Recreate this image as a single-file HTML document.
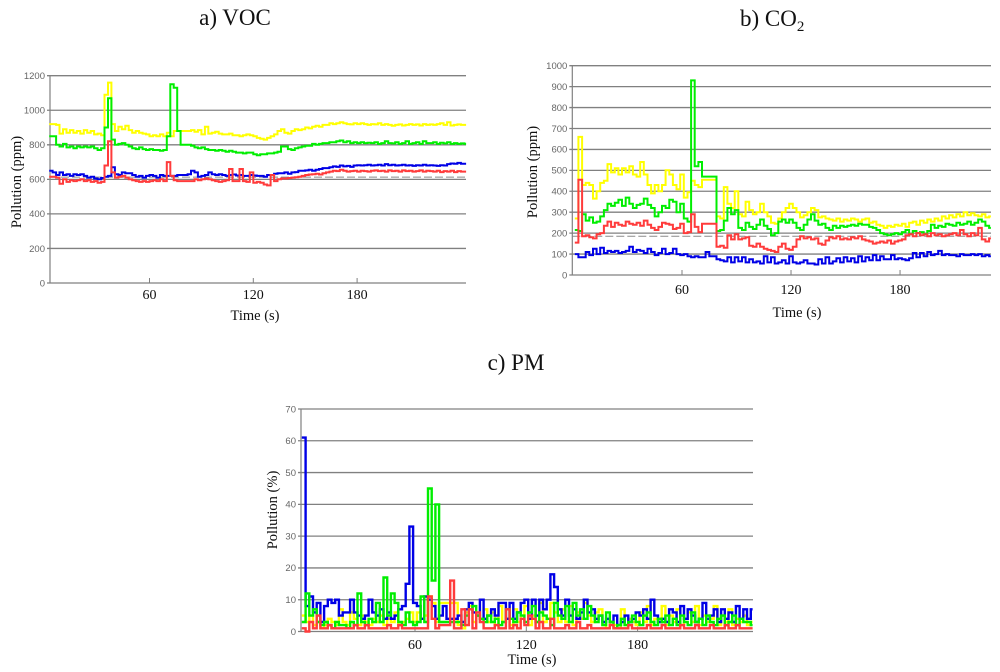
<!DOCTYPE html>
<html lang="en">
<head>
<meta charset="utf-8">
<title>Pollution charts</title>
<style>
html,body{margin:0;padding:0;background:#fff;width:1000px;height:672px;overflow:hidden}
svg{display:block}
.serif{font-family:"Liberation Serif",serif;fill:#111}
.sans{font-family:"Liberation Sans",sans-serif;fill:#666}
</style>
</head>
<body>
<svg id="figure" xmlns="http://www.w3.org/2000/svg" width="1000" height="672" viewBox="0 0 1000 672">
<defs><filter id="soft" x="-2%" y="-2%" width="104%" height="104%"><feGaussianBlur stdDeviation="0.35"/></filter></defs>
<text class="serif" x="235" y="25" font-size="23" text-anchor="middle">a) VOC</text>
<text class="serif" x="740" y="26" font-size="23">b) CO<tspan font-size="15" dy="5">2</tspan></text>
<text class="serif" x="516" y="370" font-size="23" text-anchor="middle">c) PM</text>
<g id="chart-a"></g>
<g id="chart-b"></g>
<g id="chart-c"></g>
</svg>
<script>
// ---------- Chart a: VOC (one sample per 2 s, starting at t = 2) ----------
const vocYTicks = [0,200,400,600,800,1000,1200];
const vocXTicks = [60,120,180];
const vocThreshold = 613;
const vocYellow = [
920,920,915,865,890,870,885,870,880,865,
885,870,880,860,865,855,1090,1160,920,880,
905,890,910,885,870,880,870,865,860,850,
855,850,860,850,870,850,880,880,880,880,
880,885,875,885,860,905,865,870,875,865,
860,860,865,855,855,850,855,860,855,850,
840,835,830,840,850,860,880,890,870,865,
880,890,885,890,900,895,905,910,905,915,
915,925,920,925,930,925,920,918,925,920,
925,920,915,920,918,925,915,920,915,910,
915,918,912,915,920,915,918,912,920,915,
918,915,920,925,915,930,912,915,918,915,
915];
const vocGreen = [
850,850,800,790,805,785,790,780,790,785,
790,785,790,780,770,780,900,1070,830,800,
805,810,800,790,780,775,785,775,770,775,
770,770,765,770,850,1150,1130,880,800,800,
800,795,785,780,785,775,770,770,765,770,
765,760,765,760,755,755,750,755,755,745,
740,745,745,750,750,755,760,790,790,775,
770,780,785,790,795,795,805,800,805,810,
810,815,815,820,825,815,820,810,815,810,
815,810,812,810,815,805,810,820,810,808,
815,805,810,820,805,810,815,805,820,810,
810,815,805,812,808,815,805,810,805,808,
805];
const vocBlue = [
650,640,625,640,625,630,620,630,625,630,
620,610,615,605,600,608,615,620,670,630,
625,640,635,635,625,615,620,610,620,625,
620,610,625,620,620,620,620,625,625,625,
630,650,640,615,620,625,640,630,625,630,
625,620,625,628,622,625,620,620,625,622,
620,620,615,625,625,632,635,635,640,632,
640,642,650,650,652,655,650,655,660,665,
665,670,675,672,680,675,678,672,680,682,
680,682,685,680,682,685,680,688,682,685,
680,682,685,680,682,678,682,680,685,680,
682,680,678,682,680,688,692,690,695,690,
690];
const vocRed = [
615,615,610,575,600,585,595,590,595,600,
590,595,585,590,580,585,680,820,640,610,
615,620,610,600,595,590,585,590,585,590,
595,590,600,590,700,620,595,590,590,590,
590,590,600,595,600,605,600,595,590,585,
590,595,660,590,590,660,590,585,640,580,
585,580,570,565,625,590,600,605,605,608,
610,612,615,620,625,628,630,632,628,635,
640,645,650,648,655,650,645,648,650,645,
650,648,645,650,652,648,650,645,652,648,
650,645,652,648,650,645,648,652,645,650,
648,645,650,642,648,645,650,642,648,645,
645];

// ---------- Chart b: CO2 (one sample per 2 s, starting at t = 1) ----------
const co2YTicks = [0,100,200,300,400,500,600,700,800,900,1000];
const co2XTicks = [60,120,180];
const co2Threshold = 185;
const co2Yellow = [
270,660,430,440,430,365,400,440,450,530,
490,510,480,510,490,520,480,470,540,480,
430,390,430,400,430,500,480,430,410,480,
370,395,450,430,420,455,455,455,455,280,
270,420,340,320,400,290,280,350,310,290,
300,340,300,280,250,245,270,300,320,340,
320,300,275,285,300,320,310,275,280,270,
265,260,270,255,265,260,270,265,255,265,
270,250,255,240,235,225,235,230,240,235,
245,230,250,255,240,260,250,265,255,270,
260,280,270,285,275,290,280,300,285,295,
285,280,290,275,280];
const co2Green = [
215,210,290,260,275,250,255,280,310,340,
330,345,360,330,370,340,320,335,340,365,
335,320,280,300,330,320,360,350,300,340,
270,255,930,520,540,470,470,470,470,210,
215,260,320,290,310,225,215,250,230,220,
240,265,235,220,190,200,255,265,250,265,
250,225,215,240,265,290,260,240,245,225,
215,235,225,235,230,235,240,235,245,240,
240,230,225,215,200,195,190,195,200,195,
205,215,195,210,200,205,195,210,240,225,
235,230,245,240,235,250,240,245,255,240,
250,265,255,235,225];
const co2Red = [
155,455,185,190,180,175,195,200,235,255,
230,250,240,235,255,245,240,250,235,260,
240,225,215,230,250,245,240,220,225,245,
200,205,290,230,205,245,245,245,245,135,
140,130,190,170,195,170,175,180,140,135,
150,135,125,120,115,110,135,150,125,120,
135,170,185,175,180,170,175,150,145,165,
180,175,185,170,175,170,180,175,185,170,
165,160,150,155,160,155,165,150,160,165,
170,190,195,185,200,190,195,185,200,190,
195,185,190,195,200,190,215,195,185,200,
190,225,170,160,175];
const co2Blue = [
100,85,85,110,95,125,100,130,105,115,
110,115,105,110,115,135,110,120,115,105,
125,110,95,105,125,100,105,125,100,95,
100,90,85,90,85,85,110,90,90,75,
70,65,85,60,85,65,85,60,75,60,
65,55,90,60,85,55,60,70,55,90,
60,55,60,70,55,55,50,75,55,85,
55,65,80,60,85,65,80,60,90,65,
85,70,95,70,90,75,75,95,75,80,
75,70,80,105,85,105,90,110,95,100,
115,95,100,95,95,90,100,95,95,100,
95,100,90,95,90];

// ---------- Chart c: PM (one sample per 2 s, starting at t = -1) ----------
const pmYTicks = [0,10,20,30,40,50,60,70];
const pmXTicks = [60,120,180];
const pmYellow = [
5,3,5,2,3,1,2,4,3,2,
7,3,2,6,4,2,5,3,2,4,
3,5,2,4,3,6,2,3,4,6,
3,6,4,5,11,9,3,9,9,9,
9,9,2,1,6,8,3,5,4,7,
3,6,2,8,3,4,2,7,3,5,
8,2,5,3,9,3,4,9,6,3,
7,3,8,2,6,4,9,5,3,6,
7,2,1,3,2,1,7,2,4,3,
2,6,3,8,2,4,3,8,2,5,
3,7,2,4,6,3,8,2,5,3,
4,8,2,5,3,7,2,4,3,5,
2,3];
const pmBlue = [
61,8,11,6,9,3,8,10,9,10,
5,6,6,10,6,5,4,5,10,6,
5,7,4,6,4,5,7,8,15,33,
9,8,4,11,10,8,4,5,8,4,
4,4,5,3,7,9,6,5,10,4,
5,7,5,9,9,4,9,4,6,9,
10,4,10,5,10,7,10,18,14,7,
5,10,5,7,4,6,10,6,7,4,
5,3,4,3,5,2,3,5,3,4,
6,5,7,4,10,5,3,4,3,7,
6,3,8,4,7,5,3,4,9,4,
5,7,3,7,4,6,3,8,4,7,
4,7];
const pmGreen = [
3,12,5,7,3,2,3,2,1,3,
2,2,1,3,2,12,3,2,4,3,
9,3,17,5,12,9,3,2,6,3,
2,3,11,3,45,16,40,3,3,3,
3,3,3,2,5,7,8,5,4,3,
5,3,4,2,3,7,4,3,6,5,
3,6,8,3,6,5,4,2,9,5,
4,8,3,9,5,7,4,8,5,3,
5,2,6,3,1,2,4,2,3,5,
3,2,5,6,3,2,4,3,5,2,
4,2,5,3,2,6,3,4,2,5,
3,2,4,5,2,3,5,2,4,3,
3,2];
const pmRed = [
1,0,3,1,5,1,1,2,1,1,
1,1,1,1,2,1,1,2,1,1,
1,1,1,2,1,1,2,1,1,1,
1,1,1,1,11,4,1,2,2,2,
16,1,1,7,2,7,1,6,3,1,
1,1,2,1,1,7,1,2,1,4,
2,5,4,1,3,1,1,4,1,1,
1,2,1,1,3,1,1,2,1,1,
1,1,1,2,1,1,1,1,2,1,
1,1,1,2,1,1,1,2,1,1,
1,1,2,1,1,1,2,1,1,1,
2,1,1,1,2,1,1,2,1,1,
1,1];

const NS = 'http://www.w3.org/2000/svg';
function make(tag, parent, attrs, text) {
  const el = document.createElementNS(NS, tag);
  for (const k in attrs) el.setAttribute(k, attrs[k]);
  if (text !== undefined) el.textContent = text;
  parent.appendChild(el);
  return el;
}

function drawChart(cfg) {
  const g = document.getElementById(cfg.id);
  const yMax = cfg.yTicks[cfg.yTicks.length - 1];
  const xScale = t => cfg.x60 + (t - 60) * cfg.pxPerSec;
  const yScale = v => cfg.bottom - (v / yMax) * (cfg.bottom - cfg.top);

  cfg.yTicks.forEach(function (v) {
    const py = yScale(v);
    const line = make('line', g, {x1: cfg.left - 3, x2: cfg.right, y1: py, y2: py, stroke: '#808080', 'stroke-width': v === 0 ? 1.2 : 1.3});
    
    
    const lab = make('text', g, {x: cfg.left - 5, y: py + 3.3, 'text-anchor': 'end', 'font-size': 9.5, class: 'sans'}, String(v));
    
    
  });

  const yAxis = make('line', g, {x1: cfg.left, x2: cfg.left, y1: cfg.top, y2: cfg.bottom, stroke: '#808080', 'stroke-width': 1.2});
  
  

  cfg.xTicks.forEach(function (t) {
    const px = xScale(t);
    const tick = make('line', g, {x1: px, x2: px, y1: cfg.bottom - 5, y2: cfg.bottom, stroke: '#808080', 'stroke-width': 1});
    
    
    const lab = make('text', g, {x: px, y: cfg.tickBaseline, 'text-anchor': 'middle', 'font-size': 14, class: 'serif'}, String(t));
    
    
  });

  if (cfg.threshold !== undefined) {
    const py = yScale(cfg.threshold);
    const dash = make('line', g, {x1: cfg.left, x2: cfg.right, y1: py, y2: py, stroke: '#8a8a8a', 'stroke-width': 1, 'stroke-dasharray': '8 3'});
    
    
  }

  const marks = make('g', g, {filter: 'url(#soft)'});
  
  
  cfg.series.forEach(function (s) {
    let d = '';
    s.values.forEach(function (v, i) {
      const t0 = cfg.start + i * cfg.step;
      const t1 = Math.min(t0 + cfg.step, cfg.xEnd);
      d += (i === 0 ? 'M' : 'L') + xScale(t0).toFixed(1) + ' ' + yScale(v).toFixed(1) + 'L' + xScale(t1).toFixed(1) + ' ' + yScale(v).toFixed(1);
    });
    const p = make('path', marks, {d: d, fill: 'none', stroke: s.color, 'stroke-width': cfg.lineWidth, 'stroke-linejoin': 'miter'});
    
    
  });

  const xt = make('text', g, {x: cfg.xTitleX, y: cfg.xTitleY, 'text-anchor': 'middle', 'font-size': 14.5, class: 'serif'}, 'Time (s)');
  
  
  const yt = make('text', g, {transform: 'translate(' + cfg.yTitleX + ' ' + cfg.yTitleY + ') rotate(-90)', 'text-anchor': 'middle', 'font-size': 14.5, class: 'serif'}, cfg.yTitle);
  
  
}

const YEL = '#ffff00', GRN = '#00ee00', BLU = '#0000e6', RED = '#ff3a3a';

drawChart({
  id: 'chart-a', left: 50, right: 466, top: 75.7, bottom: 283, x60: 149.5, pxPerSec: 1.73,
  start: 2, step: 2, xEnd: 243, yTicks: vocYTicks, xTicks: vocXTicks, threshold: vocThreshold, lineWidth: 2,
  tickBaseline: 299, xTitleX: 255, xTitleY: 320, yTitleX: 21, yTitleY: 182, yTitle: 'Pollution (ppm)',
  series: [
    {name: 'voc-series-yellow', color: YEL, values: vocYellow},
    {name: 'voc-series-green', color: GRN, values: vocGreen},
    {name: 'voc-series-blue', color: BLU, values: vocBlue},
    {name: 'voc-series-red', color: RED, values: vocRed}
  ]
});

drawChart({
  id: 'chart-b', left: 572.3, right: 991, top: 65.7, bottom: 275, x60: 682, pxPerSec: 1.817,
  start: 1, step: 2, xEnd: 230, yTicks: co2YTicks, xTicks: co2XTicks, threshold: co2Threshold, lineWidth: 2,
  tickBaseline: 294, xTitleX: 797, xTitleY: 317, yTitleX: 537, yTitleY: 172, yTitle: 'Pollution (ppm)',
  series: [
    {name: 'co2-series-yellow', color: YEL, values: co2Yellow},
    {name: 'co2-series-green', color: GRN, values: co2Green},
    {name: 'co2-series-red', color: RED, values: co2Red},
    {name: 'co2-series-blue', color: BLU, values: co2Blue}
  ]
});

drawChart({
  id: 'chart-c', left: 301, right: 753, top: 409, bottom: 631.5, x60: 415, pxPerSec: 1.855,
  start: -1, step: 2, xEnd: 242, yTicks: pmYTicks, xTicks: pmXTicks, lineWidth: 2.4,
  tickBaseline: 649, xTitleX: 532, xTitleY: 664, yTitleX: 277, yTitleY: 510, yTitle: 'Pollution (%)',
  series: [
    {name: 'pm-series-yellow', color: YEL, values: pmYellow},
    {name: 'pm-series-blue', color: BLU, values: pmBlue},
    {name: 'pm-series-green', color: GRN, values: pmGreen},
    {name: 'pm-series-red', color: RED, values: pmRed}
  ]
});
</script>
</body>
</html>
